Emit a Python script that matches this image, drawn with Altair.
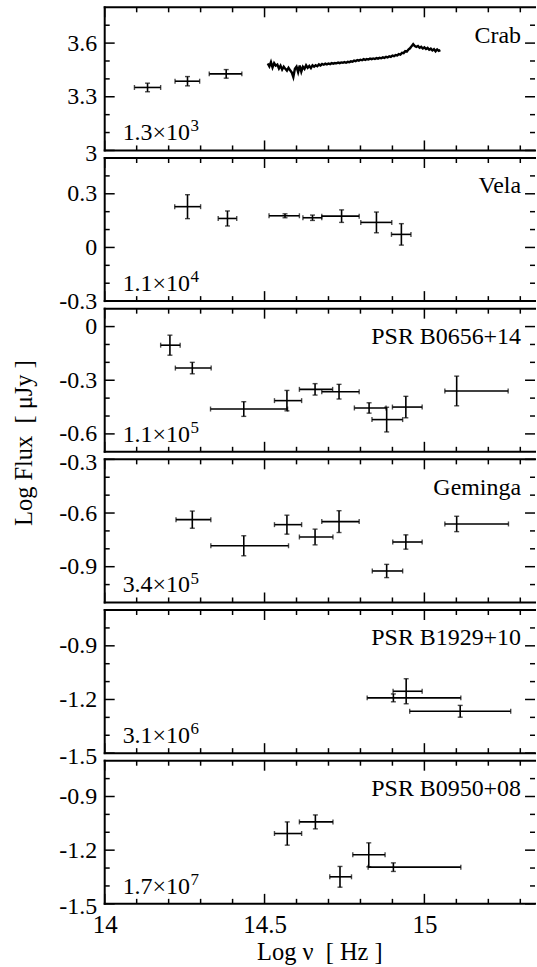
import altair as alt
import pandas as pd
import numpy as np

FONT = "Liberation Serif"

# ---------------- data ----------------
PULSARS = ["Crab", "Vela", "PSR B0656+14", "Geminga", "PSR B1929+10", "PSR B0950+08"]
SCALE_MANTISSA = ["1.3×10", "1.1×10", "1.1×10", "3.4×10", "3.1×10", "1.7×10"]
SCALE_EXPONENT = ["3", "4", "5", "5", "6", "7"]
Y_DOMAINS = [[3.0, 3.8], [-0.3, 0.5], [-0.7, 0.1], [-1.1, -0.3], [-1.5, -0.7], [-1.5, -0.7]]
Y_LABELS = [[3, 3.3, 3.6], [-0.3, 0, 0.3], [-0.6, -0.3, 0], [-0.9, -0.6, -0.3],
            [-1.5, -1.2, -0.9], [-1.5, -1.2, -0.9]]
Y_EDGE_LABELS = [[3], [-0.3], [], [-0.3], [-1.5], [-1.5]]
EDGE_SHIFT = [3, 0, 0, 3, 3, 3]
X_DOMAIN = [14.0, 15.346]
X_LABELS = [14, 14.5, 15]
X_MINOR = [14.1, 14.2, 14.3, 14.4, 14.6, 14.7, 14.8, 14.9, 15.1, 15.2, 15.3]

# photometric points: centre, band limits, log flux, error
CRAB_X = [14.134, 14.259, 14.380]
CRAB_XLO = [14.093, 14.220, 14.327]
CRAB_XHI = [14.175, 14.297, 14.429]
CRAB_Y = [3.352, 3.387, 3.428]
CRAB_YERR = [0.024, 0.026, 0.024]

VELA_X = [14.259, 14.384, 14.564, 14.650, 14.741, 14.850, 14.928]
VELA_XLO = [14.219, 14.355, 14.514, 14.620, 14.679, 14.801, 14.897]
VELA_XHI = [14.300, 14.413, 14.609, 14.679, 14.796, 14.898, 14.958]
VELA_Y = [0.228, 0.162, 0.177, 0.166, 0.175, 0.140, 0.073]
VELA_YERR = [0.067, 0.042, 0.011, 0.015, 0.035, 0.058, 0.060]

B0656_X = [14.204, 14.274, 14.435, 14.570, 14.658, 14.733, 14.827, 14.882, 14.942, 15.101]
B0656_XLO = [14.175, 14.221, 14.331, 14.531, 14.609, 14.679, 14.781, 14.836, 14.900, 15.064]
B0656_XHI = [14.236, 14.333, 14.572, 14.616, 14.713, 14.796, 14.880, 14.932, 14.993, 15.262]
B0656_Y = [-0.104, -0.232, -0.461, -0.414, -0.351, -0.364, -0.455, -0.520, -0.450, -0.360]
B0656_YERR = [0.056, 0.032, 0.041, 0.057, 0.032, 0.041, 0.029, 0.069, 0.060, 0.083]

GEM_X = [14.274, 14.435, 14.570, 14.658, 14.733, 14.882, 14.942, 15.101]
GEM_XLO = [14.223, 14.332, 14.531, 14.609, 14.679, 14.837, 14.901, 15.064]
GEM_XHI = [14.332, 14.575, 14.616, 14.714, 14.796, 14.932, 14.993, 15.263]
GEM_Y = [-0.637, -0.783, -0.665, -0.734, -0.648, -0.924, -0.762, -0.661]
GEM_YERR = [0.048, 0.056, 0.053, 0.044, 0.061, 0.037, 0.040, 0.043]

B1929_X = [14.903, 14.943, 15.112]
B1929_XLO = [14.821, 14.902, 14.954]
B1929_XHI = [15.114, 14.993, 15.270]
B1929_Y = [-1.191, -1.154, -1.266]
B1929_YERR = [0.022, 0.070, 0.033]

B0950_X = [14.571, 14.659, 14.736, 14.826, 14.903]
B0950_XLO = [14.531, 14.609, 14.704, 14.776, 14.824]
B0950_XHI = [14.616, 14.714, 14.772, 14.877, 15.114]
B0950_Y = [-1.107, -1.042, -1.349, -1.226, -1.295]
B0950_YERR = [0.065, 0.039, 0.058, 0.067, 0.024]

# Crab optical spectrum
CRAB_SPEC_X = [
    14.510, 14.515, 14.520, 14.525, 14.530, 14.535, 14.540, 14.545, 14.550, 14.555,
    14.560, 14.565, 14.570, 14.575, 14.580, 14.585, 14.590, 14.595, 14.600, 14.605,
    14.610, 14.615, 14.620, 14.625, 14.630, 14.635, 14.640, 14.645, 14.650, 14.655,
    14.660, 14.665, 14.670, 14.675, 14.680, 14.685, 14.690, 14.695, 14.700, 14.705,
    14.710, 14.715, 14.720, 14.725, 14.730, 14.735, 14.740, 14.745, 14.750, 14.755,
    14.760, 14.765, 14.770, 14.775, 14.780, 14.785, 14.790, 14.795, 14.800, 14.805,
    14.810, 14.815, 14.820, 14.825, 14.830, 14.835, 14.840, 14.845, 14.850, 14.855,
    14.860, 14.865, 14.870, 14.875, 14.880, 14.885, 14.890, 14.895, 14.900, 14.905,
    14.910, 14.915, 14.920, 14.925, 14.930, 14.935, 14.940, 14.945, 14.950, 14.955,
    14.960, 14.965, 14.970, 14.975, 14.980, 14.985, 14.990, 14.995, 15.000, 15.005,
    15.010, 15.015, 15.020, 15.025, 15.030, 15.035, 15.040, 15.045, 15.050]
CRAB_SPEC_Y = [
    3.486, 3.470, 3.494, 3.464, 3.488, 3.474, 3.480, 3.458, 3.474, 3.452,
    3.468, 3.456, 3.446, 3.462, 3.448, 3.436, 3.410, 3.456, 3.468, 3.438,
    3.474, 3.440, 3.468, 3.456, 3.476, 3.462, 3.472, 3.460, 3.476, 3.468,
    3.476, 3.471, 3.481, 3.475, 3.483, 3.479, 3.485, 3.481, 3.486, 3.482,
    3.488, 3.485, 3.489, 3.487, 3.491, 3.488, 3.492, 3.490, 3.494, 3.490,
    3.495, 3.493, 3.498, 3.496, 3.502, 3.499, 3.505, 3.502, 3.507, 3.504,
    3.510, 3.506, 3.511, 3.508, 3.513, 3.510, 3.514, 3.511, 3.516, 3.513,
    3.518, 3.515, 3.520, 3.517, 3.523, 3.520, 3.526, 3.523, 3.530, 3.527,
    3.533, 3.531, 3.539, 3.536, 3.546, 3.544, 3.555, 3.552, 3.564, 3.571,
    3.583, 3.594, 3.584, 3.579, 3.584, 3.574, 3.579, 3.570, 3.576, 3.567,
    3.573, 3.563, 3.569, 3.559, 3.566, 3.554, 3.565, 3.557, 3.561]

POINTS = [
    (CRAB_X, CRAB_XLO, CRAB_XHI, CRAB_Y, CRAB_YERR),
    (VELA_X, VELA_XLO, VELA_XHI, VELA_Y, VELA_YERR),
    (B0656_X, B0656_XLO, B0656_XHI, B0656_Y, B0656_YERR),
    (GEM_X, GEM_XLO, GEM_XHI, GEM_Y, GEM_YERR),
    (B1929_X, B1929_XLO, B1929_XHI, B1929_Y, B1929_YERR),
    (B0950_X, B0950_XLO, B0950_XHI, B0950_Y, B0950_YERR),
]

# ---------------- layout ----------------
W, H = 431.5, 143.5
SPACING = 7.1
LW_FRAME = 2
LW_TICK = 1.5
LW_ERR = 1.6
TICK_MAJ, TICK_MIN = 10, 5
FS_LABEL = 24
FS_TEXT = 24
FS_SUP = 17

ONE = alt.Data(values=[{"a": 1}])


def minor_ticks(dom, major):
    lo, hi = dom
    vals = np.round(np.arange(lo + 0.1, hi - 0.05, 0.1), 2)
    return [float(v) for v in vals if not any(abs(v - m) < 1e-6 for m in major)]


def panel(i, show_x=False, ytitle=False, anchor=False, spectrum=False):
    xs = alt.Scale(domain=X_DOMAIN, nice=False, zero=False)
    ys = alt.Scale(domain=Y_DOMAINS[i], nice=False, zero=False)

    if show_x:
        xax = alt.Axis(values=X_LABELS, labelExpr="'' + datum.value", ticks=False,
                       tickSize=0, domain=False, grid=False, title=None,
                       labelFont=FONT, labelFontSize=25, labelColor="black",
                       labelPadding=9, labelFlush=False, labelOverlap=False)
    else:
        xax = None
    edge = Y_EDGE_LABELS[i]
    if edge and EDGE_SHIFT[i]:
        test = " || ".join(f"datum.value == {v}" for v in edge)
        off_cond = {"condition": {"test": test, "value": EDGE_SHIFT[i]}, "value": 0}
    else:
        off_cond = 0
    yax = alt.Axis(values=Y_LABELS[i], labelExpr="'' + datum.value", ticks=False,
                   tickSize=0, domain=False, grid=False, title=None, labelFont=FONT,
                   labelFontSize=FS_LABEL, labelColor="black", labelPadding=8,
                   labelFlush=False, labelOverlap=False, labelBaseline="middle",
                   labelOffset=off_cond)

    X = lambda f: alt.X(f, type="quantitative", scale=xs, axis=xax)
    Y = lambda f: alt.Y(f, type="quantitative", scale=ys, axis=yax)

    layers = []

    # axis carrier layer (first, invisible)
    carrier = pd.DataFrame({"x": [X_DOMAIN[0]], "y": [Y_DOMAINS[i][0]]})
    layers.append(alt.Chart(carrier).mark_point(opacity=0, size=1).encode(
        x=X("x"), y=Y("y")))

    def frame(**enc):
        return alt.Chart(ONE).mark_rule(color="black", strokeWidth=LW_FRAME,
                                        strokeCap="square").encode(**enc)

    layers.append(frame(x=alt.value(0), x2=alt.value(W), y=alt.value(0)))
    layers.append(frame(x=alt.value(0), x2=alt.value(W), y=alt.value(H)))
    layers.append(frame(x=alt.value(0), y=alt.value(0), y2=alt.value(H)))

    if anchor:
        layers.append(alt.Chart(ONE).mark_rule(color="white", strokeWidth=1).encode(
            x=alt.value(-104.5), x2=alt.value(-103.5), y=alt.value(-5)))

    # x ticks (top & bottom, inward)
    for vals, L in [(X_LABELS, TICK_MAJ), (X_MINOR, TICK_MIN)]:
        df = pd.DataFrame({"t": vals})
        layers.append(alt.Chart(df).mark_rule(color="black", strokeWidth=LW_TICK).encode(
            x=X("t"), y=alt.value(0), y2=alt.value(L)))
        layers.append(alt.Chart(df).mark_rule(color="black", strokeWidth=LW_TICK).encode(
            x=X("t"), y=alt.value(H), y2=alt.value(H - L)))

    # y ticks (left & right, inward)
    ymaj = Y_LABELS[i]
    ymin = minor_ticks(Y_DOMAINS[i], ymaj)
    for vals, L in [(ymaj, TICK_MAJ), (ymin, TICK_MIN)]:
        df = pd.DataFrame({"t": vals})
        layers.append(alt.Chart(df).mark_rule(color="black", strokeWidth=LW_TICK).encode(
            y=Y("t"), x=alt.value(0), x2=alt.value(L)))
        layers.append(alt.Chart(df).mark_rule(color="black", strokeWidth=LW_TICK).encode(
            y=Y("t"), x=alt.value(W), x2=alt.value(W - L)))

    # data points with error bars
    px, pxlo, pxhi, py, pyerr = POINTS[i]
    df = pd.DataFrame({"x": px, "xlo": pxlo, "xhi": pxhi, "y": py, "yerr": pyerr})
    df["ylo"] = df["y"] - df["yerr"]
    df["yhi"] = df["y"] + df["yerr"]
    base = alt.Chart(df)
    layers.append(base.mark_rule(color="black", strokeWidth=LW_ERR).encode(
        x=X("xlo"), x2="xhi", y=Y("y")))
    layers.append(base.mark_rule(color="black", strokeWidth=LW_ERR).encode(
        x=X("x"), y=Y("ylo"), y2="yhi"))
    layers.append(base.transform_fold(["xlo", "xhi"], as_=["k", "xc"]).mark_tick(
        orient="vertical", size=5, thickness=1.4, color="black").encode(
        x=X("xc"), y=Y("y")))
    layers.append(base.transform_fold(["ylo", "yhi"], as_=["k", "yc"]).mark_tick(
        orient="horizontal", size=5, thickness=1.4, color="black").encode(
        x=X("x"), y=Y("yc")))

    if spectrum:
        sdf = pd.DataFrame({"x": CRAB_SPEC_X, "y": CRAB_SPEC_Y})
        layers.append(alt.Chart(sdf).mark_line(color="black", strokeWidth=2.4,
                                               strokeJoin="miter").encode(
            x=X("x"), y=Y("y")))

    # texts
    layers.append(alt.Chart(ONE).mark_text(
        text=PULSARS[i], align="right", baseline="alphabetic", font=FONT,
        fontSize=FS_TEXT, color="black").encode(x=alt.value(W - 14), y=alt.value(35.5)))
    mant_x = 18
    layers.append(alt.Chart(ONE).mark_text(
        text=SCALE_MANTISSA[i], align="left", baseline="alphabetic", font=FONT,
        fontSize=FS_TEXT, color="black").encode(x=alt.value(mant_x), y=alt.value(H - 10)))
    layers.append(alt.Chart(ONE).mark_text(
        text=SCALE_EXPONENT[i], align="left", baseline="alphabetic", font=FONT,
        fontSize=FS_SUP, color="black").encode(
        x=alt.value(mant_x + 2.814 * FS_TEXT + 0.5), y=alt.value(H - 19)))

    if ytitle:
        layers.append(alt.Chart(ONE).mark_text(
            text="Log Flux\u00a0 [ μJy ]", align="center", baseline="alphabetic",
            angle=270, font=FONT, fontSize=24.5, color="black").encode(
            x=alt.value(-72.5), y=alt.value(134.8)))
    if show_x:
        layers.append(alt.Chart(ONE).mark_text(
            text="Log ν\u00a0 [ Hz ]", align="center", baseline="alphabetic",
            font=FONT, fontSize=24.5, color="black").encode(
            x=alt.value(W / 2), y=alt.value(H + 56)))

    return alt.layer(*layers).properties(width=W, height=H)


panels = [
    panel(0, anchor=True, spectrum=True),
    panel(1),
    panel(2, ytitle=True),
    panel(3),
    panel(4),
    panel(5, show_x=True),
]

chart = alt.vconcat(*panels, spacing=SPACING, bounds="flush").properties(
    padding={"left": 0, "top": 0, "right": 0, "bottom": 0},
    background="white",
).configure_view(stroke=None)

chart.save("out.html", embed_options={"renderer": "svg", "actions": False})
